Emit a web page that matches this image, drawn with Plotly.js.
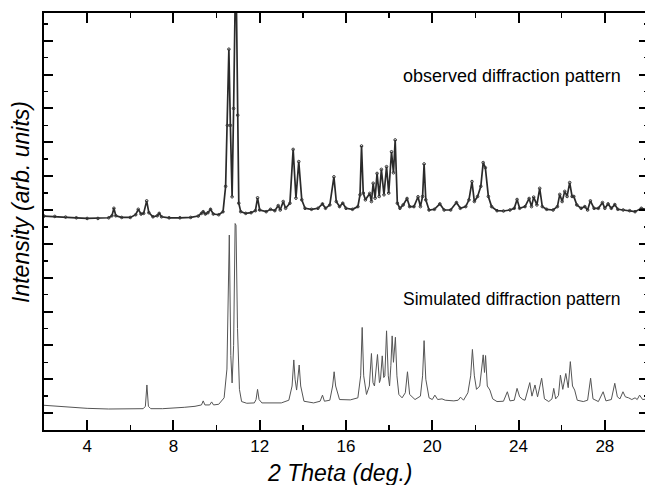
<!DOCTYPE html>
<html>
<head>
<meta charset="utf-8">
<script src="https://cdn.plot.ly/plotly-3.0.1.min.js"></script>
<style>
html, body { margin: 0; padding: 0; background: #fff; overflow: hidden; }
#chart { width: 650px; height: 485px; }
</style>
</head>
<body>
<div id="chart"></div>
<script>
// 2-theta positions and intensities (arb. units)
const obsX = [2.0,2.5,3.0,3.5,4.0,4.5,5.0,5.15,5.24,5.33,5.6,6.0,6.25,6.37,6.5,6.62,6.76,6.86,7.05,7.25,7.34,7.45,7.8,8.3,8.8,9.15,9.3,9.38,9.48,9.6,9.72,9.85,10.1,10.3,10.42,10.5,10.57,10.64,10.72,10.79,10.86,10.92,10.98,11.03,11.12,11.35,11.6,11.8,11.9,12.0,12.3,12.5,12.7,12.86,12.95,13.09,13.2,13.4,13.55,13.68,13.81,13.95,14.1,14.4,14.7,14.91,15.05,15.25,15.44,15.55,15.7,15.85,16.0,16.3,16.55,16.65,16.72,16.8,16.9,17.1,17.18,17.26,17.35,17.44,17.54,17.64,17.76,17.88,17.98,18.11,18.2,18.28,18.38,18.5,18.65,18.83,18.95,19.15,19.34,19.45,19.55,19.62,19.7,19.85,20.1,20.35,20.55,20.85,21.12,21.3,21.55,21.7,21.84,21.95,22.1,22.25,22.36,22.46,22.6,22.75,23.0,23.3,23.6,23.8,23.93,24.05,24.3,24.49,24.6,24.7,24.85,24.98,25.1,25.3,25.6,25.8,25.91,26.02,26.14,26.25,26.37,26.48,26.56,26.7,26.9,27.07,27.2,27.33,27.5,27.7,27.89,28.0,28.15,28.3,28.46,28.6,28.85,29.15,29.4,29.69,30.0];
const obsY = [6.32,6.31,6.29,6.27,6.25,6.25,6.27,6.33,6.55,6.33,6.28,6.28,6.36,6.52,6.38,6.4,6.77,6.42,6.3,6.33,6.4,6.3,6.27,6.27,6.28,6.32,6.4,6.45,6.38,6.42,6.52,6.38,6.36,6.45,7.2,9.0,11.25,9.0,6.89,9.5,12.6,12.6,9.3,6.7,6.45,6.4,6.42,6.48,6.86,6.5,6.45,6.52,6.48,6.63,6.5,6.75,6.55,6.7,8.29,6.85,7.93,6.8,6.55,6.52,6.55,6.68,6.55,6.65,7.48,6.75,6.6,6.7,6.55,6.52,6.6,6.95,8.39,7.0,6.8,6.99,6.75,7.29,6.85,7.58,6.9,7.7,6.95,7.78,7.0,8.22,7.6,8.57,6.7,6.55,6.65,6.84,6.6,6.6,6.89,6.6,6.9,7.86,6.8,6.5,6.52,6.68,6.5,6.5,6.72,6.55,6.6,6.8,7.34,6.75,6.9,7.2,7.9,7.75,6.9,6.6,6.48,6.47,6.5,6.55,6.81,6.55,6.6,6.84,6.6,6.88,6.65,7.14,6.6,6.52,6.5,6.6,6.96,6.75,7.05,6.9,7.31,6.9,6.9,6.65,6.55,6.6,6.5,6.77,6.55,6.55,6.72,6.55,6.68,6.55,6.66,6.52,6.5,6.48,6.45,6.55,6.5];

const simX = [2.0,3.0,4.0,5.0,6.0,6.6,6.7,6.77,6.84,6.95,7.5,8.0,8.5,9.0,9.3,9.38,9.46,9.68,9.77,9.86,10.1,10.35,10.48,10.59,10.66,10.72,10.79,10.86,10.9,10.97,11.06,11.16,11.4,11.75,11.83,11.9,11.97,12.1,13.0,13.35,13.5,13.58,13.64,13.71,13.77,13.83,13.9,14.05,14.5,14.8,14.91,15.0,15.25,15.38,15.45,15.52,15.7,16.2,16.55,16.68,16.75,16.82,16.95,17.08,17.18,17.25,17.32,17.46,17.55,17.6,17.68,17.75,17.8,17.88,17.96,18.02,18.08,18.14,18.2,18.29,18.36,18.45,18.6,18.75,18.85,18.95,19.2,19.45,19.55,19.62,19.7,19.85,20.0,20.12,20.25,20.45,20.6,21.0,21.2,21.31,21.45,21.65,21.78,21.86,21.95,22.05,22.2,22.3,22.36,22.42,22.47,22.55,22.67,22.8,23.0,23.3,23.48,23.6,23.8,23.93,24.05,24.2,24.3,24.52,24.62,24.76,24.88,25.07,25.2,25.4,25.55,25.63,25.72,25.85,25.94,26.05,26.19,26.3,26.4,26.5,26.6,26.72,27.0,27.2,27.34,27.45,27.7,27.92,28.05,28.3,28.46,28.58,28.7,28.84,28.95,29.1,29.25,29.4,29.5,29.61,29.75,30.0];
const simY = [0.73,0.68,0.64,0.62,0.62,0.63,0.7,1.33,0.7,0.63,0.63,0.64,0.67,0.7,0.74,0.86,0.74,0.74,0.83,0.74,0.76,0.95,1.8,5.76,2.2,1.39,2.5,6.1,6.05,3.0,1.2,0.84,0.79,0.8,0.9,1.2,0.9,0.8,0.8,0.88,1.3,2.07,1.5,1.18,1.5,1.92,1.3,0.85,0.8,0.85,1.03,0.85,0.88,1.3,1.72,1.3,0.9,0.89,0.95,1.6,3.03,1.6,1.05,1.3,2.26,1.4,1.3,2.23,1.4,1.5,2.19,1.55,1.6,2.93,1.6,1.3,1.9,2.78,2.0,2.74,1.6,1.05,0.95,1.1,1.72,1.05,0.9,1.0,1.6,2.64,1.5,0.95,0.9,1.03,0.9,0.92,0.88,0.86,0.88,0.97,0.88,1.1,1.6,2.38,1.6,1.2,1.3,1.8,2.22,1.7,2.2,1.3,1.18,0.92,0.84,0.85,1.13,0.86,0.88,1.23,0.98,0.9,0.88,1.4,1.0,1.33,0.98,1.53,0.92,0.84,0.92,1.23,0.92,1.02,1.62,1.2,1.67,1.25,2.02,1.3,1.18,0.88,0.84,0.88,1.53,0.92,0.84,1.13,0.86,0.9,1.38,0.98,0.92,1.13,0.98,0.95,0.9,0.95,0.9,1.03,0.9,0.92];

const xTickVals = [4,8,12,16,20,24,28];
const labelObserved = "observed diffraction pattern";
const labelSimulated = "Simulated diffraction pattern";
const xTitle = "2 Theta (deg.)";
const yTitle = "Intensity (arb. units)";

const traces = [
  {
    x: obsX, y: obsY, type: 'scatter', mode: 'lines+markers',
    line: {color: '#2a2a2a', width: 1.7},
    marker: {symbol: 'circle-open', size: 2.6, color: '#333', line: {width: 1}},
    hoverinfo: 'skip'
  },
  {
    x: simX, y: simY, type: 'scatter', mode: 'lines',
    line: {color: '#555', width: 1},
    hoverinfo: 'skip'
  }
];

const layout = {
  width: 650, height: 485,
  margin: {l: 44, r: 2, t: 13, b: 55},
  paper_bgcolor: '#fff', plot_bgcolor: '#fff',
  showlegend: false,
  font: {family: 'Liberation Sans, Arial, sans-serif', color: '#000'},
  xaxis: {
    range: [2, 30], showgrid: false, zeroline: false,
    showline: true, linecolor: '#000', linewidth: 2, mirror: 'ticks',
    ticks: 'inside', ticklen: 10, tickwidth: 2, tickcolor: '#000',
    tickmode: 'array', tickvals: xTickVals, ticktext: xTickVals.map(String),
    tickfont: {size: 17, color: '#000'},
    minor: {tick0: 2, dtick: 2, ticks: 'inside', ticklen: 5, tickwidth: 1.5, tickcolor: '#000'},
    title: {text: '', font: {size: 22}}
  },
  yaxis: {
    range: [0, 12.32], showgrid: false, zeroline: false,
    showline: true, linecolor: '#000', linewidth: 2, mirror: 'ticks',
    ticks: 'inside', ticklen: 9, tickwidth: 2, tickcolor: '#000',
    tick0: 0.5, dtick: 1, showticklabels: false,
    minor: {tick0: 0, dtick: 1, ticks: 'inside', ticklen: 4, tickwidth: 1.5, tickcolor: '#000'},
    title: {text: ''}
  },
  annotations: [
    {text: xTitle, x: 0.49, y: -0.103, xref: 'paper', yref: 'paper', xanchor: 'center', yanchor: 'middle',
     showarrow: false, font: {size: 23, color: '#000', style: 'italic'}},
    {text: yTitle, x: -0.038, y: 0.547, xref: 'paper', yref: 'paper', xanchor: 'center', yanchor: 'middle',
     textangle: -90, showarrow: false, font: {size: 23, color: '#000', style: 'italic'}},
    {text: labelObserved, x: 18.54, y: 10.46, xref: 'x', yref: 'y', xanchor: 'left', yanchor: 'middle',
     showarrow: false, font: {size: 18, color: '#000'}},
    {text: labelSimulated, x: 18.57, y: 3.87, xref: 'x', yref: 'y', xanchor: 'left', yanchor: 'middle',
     showarrow: false, font: {size: 17.5, color: '#000'}}
  ]
};

Plotly.newPlot('chart', traces, layout, {displayModeBar: false, staticPlot: true});
</script>
</body>
</html>
